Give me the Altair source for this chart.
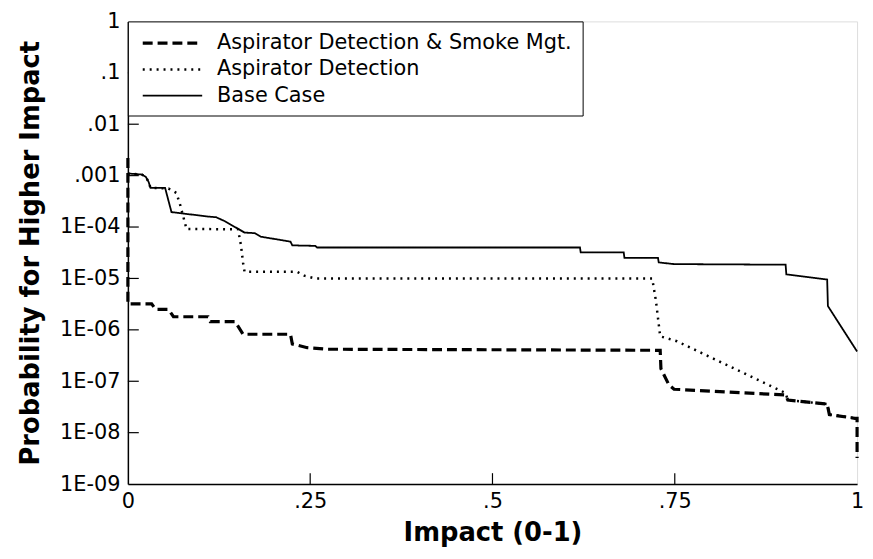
import altair as alt
import pandas as pd

series_names = ["Aspirator Detection & Smoke Mgt.", "Aspirator Detection", "Base Case"]

smoke_x = [0.0, 0.0, 0.0326, 0.038, 0.0557, 0.0625, 0.110, 0.113, 0.147, 0.158,
           0.223, 0.2255, 0.246, 0.273, 0.730, 0.731, 0.742, 0.749, 0.902, 0.905,
           0.959, 0.962, 0.997, 1.0, 1.0]
smoke_p = [2.2e-3, 3.2e-6, 3.2e-6, 2.5e-6, 2.5e-6, 1.8e-6, 1.8e-6, 1.44e-6, 1.44e-6, 8.2e-7,
           8.2e-7, 5.3e-7, 4.5e-7, 4.2e-7, 4.0e-7, 1.76e-7, 8.5e-8, 7.0e-8, 5.4e-8, 4.3e-8,
           3.6e-8, 2.25e-8, 1.9e-8, 1.9e-8, 3.2e-9]

asp_x = [0.0, 0.019, 0.0245, 0.0285, 0.031, 0.0557, 0.0666, 0.072, 0.079, 0.080,
         0.151, 0.155, 0.158, 0.160, 0.232, 0.242, 0.257, 0.719, 0.724, 0.730,
         0.753, 0.902, 0.905, 0.959, 0.962, 1.0]
asp_p = [1.1e-3, 1.05e-3, 9.5e-4, 7.5e-4, 5.8e-4, 5.6e-4, 4.6e-4, 2.6e-4, 1.1e-4, 9.2e-5,
         9.0e-5, 4.5e-5, 2.0e-5, 1.35e-5, 1.35e-5, 1.13e-5, 1.0e-5, 1.0e-5, 3.8e-6, 7.5e-7,
         6.0e-7, 5.9e-8, 4.3e-8, 3.6e-8, 2.25e-8, 1.9e-8]

base_x = [0.0, 0.019, 0.0245, 0.0285, 0.031, 0.051, 0.0598, 0.110, 0.121, 0.133,
          0.160, 0.174, 0.182, 0.223, 0.2255, 0.257, 0.2595, 0.62, 0.621, 0.68,
          0.681, 0.727, 0.728, 0.749, 0.902, 0.903, 0.959, 0.960, 1.0]
base_p = [1.1e-3, 1.05e-3, 9.5e-4, 7.5e-4, 5.8e-4, 5.8e-4, 1.95e-4, 1.6e-4, 1.55e-4, 1.3e-4,
          7.8e-5, 7.6e-5, 6.5e-5, 5.2e-5, 4.4e-5, 4.3e-5, 4.0e-5, 4.0e-5, 3.2e-5, 3.2e-5,
          2.5e-5, 2.5e-5, 2.05e-5, 1.9e-5, 1.85e-5, 1.2e-5, 9.5e-6, 2.9e-6, 3.8e-7]

y_ticks = [1, 0.1, 0.01, 0.001, 1e-4, 1e-5, 1e-6, 1e-7, 1e-8, 1e-9]
x_ticks = [0, 0.25, 0.5, 0.75, 1]
y_inner = [0.1, 0.01, 0.001, 1e-4, 1e-5, 1e-6, 1e-7, 1e-8]
x_inner = [0.25, 0.5, 0.75]

rows = []
for name, xs, ps in [(series_names[0], smoke_x, smoke_p),
                     (series_names[1], asp_x, asp_p),
                     (series_names[2], base_x, base_p)]:
    for i, (xv, pv) in enumerate(zip(xs, ps)):
        rows.append({"series": name, "x": xv, "p": pv, "idx": i})
df = pd.DataFrame(rows)

W, H = 736, 467
FONT = "DejaVu Sans"

yscale = alt.Scale(type="log", domain=[1e-9, 1], nice=False)
xscale = alt.Scale(domain=[0, 1], nice=False, zero=False)

xaxis = alt.Axis(
    title="Impact (0-1)", values=x_ticks,
    labelExpr="replace(format(datum.value, ''), '0.', '.')",
    ticks=False, tickSize=0, grid=False, labelPadding=7, titlePadding=8,
    labelFontSize=21, titleFontSize=26, titleFontWeight="bold",
    labelFont=FONT, titleFont=FONT, labelColor="black", titleColor="black",
    domainColor="black", domainWidth=1.5, labelFlush=False, labelOverlap=False,
)
yaxis = alt.Axis(
    title="Probability for Higher Impact", values=y_ticks,
    labelExpr="datum.value >= 0.001 ? replace(format(datum.value, ''), '0.', '.') : '1E-0' + format(-round(log(datum.value) / LN10), 'd')",
    ticks=False, tickSize=0, grid=False, labelPadding=8, titlePadding=16,
    labelFontSize=21, titleFontSize=26, titleFontWeight="bold",
    labelFont=FONT, titleFont=FONT, labelColor="black", titleColor="black",
    domainColor="black", domainWidth=1.5, labelFlush=False, labelOverlap=False,
)

leg = alt.Legend(
    orient="none", legendX=0, legendY=0, title=None,
    strokeColor="black", fillColor="white", padding=10, rowPadding=5,
    symbolType="M-0.7,0H5.3", symbolSize=400, symbolStrokeColor="black",
    labelOffset=56, labelFontSize=21, labelFont=FONT, labelColor="black",
    labelLimit=600,
)

lines = alt.Chart(df).mark_line(color="black", strokeCap="butt", strokeJoin="miter").encode(
    x=alt.X("x:Q", scale=xscale, axis=xaxis),
    y=alt.Y("p:Q", scale=yscale, axis=yaxis),
    strokeDash=alt.StrokeDash("series:N", scale=alt.Scale(domain=series_names, range=[[10, 5], [2, 5], [1, 0]]), legend=leg),
    strokeWidth=alt.StrokeWidth("series:N", scale=alt.Scale(domain=series_names, range=[3.2, 1.8, 1.3]), legend=leg),
    order=alt.Order("idx:Q"),
)

yt = alt.Chart(pd.DataFrame({"p": y_inner})).mark_rule(color="black", strokeWidth=1.2).encode(
    y=alt.Y("p:Q", scale=yscale, axis=yaxis), x=alt.value(0), x2=alt.value(11))
xt = alt.Chart(pd.DataFrame({"x": x_inner})).mark_rule(color="black", strokeWidth=1.2).encode(
    x=alt.X("x:Q", scale=xscale, axis=xaxis), y=alt.value(H), y2=alt.value(H - 11))

chart = alt.layer(yt, xt, lines).properties(
    width=W, height=H,
    autosize=alt.AutoSizeParams(type="none"),
    padding={"left": 121, "top": 11, "right": 8, "bottom": 62},
).configure_view(stroke="black", strokeWidth=1.5).configure(background="white")

chart.save("out.html", embed_options={"renderer": "svg", "actions": False})
